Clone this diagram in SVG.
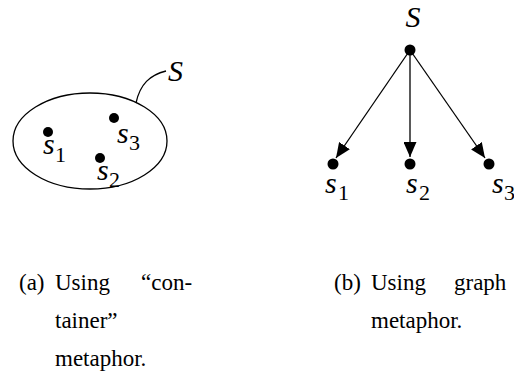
<svg xmlns="http://www.w3.org/2000/svg" width="514" height="374" viewBox="0 0 514 374">
<defs>
<style>
.m{font-family:"Liberation Serif",serif;font-style:italic;font-size:30px;fill:#000}
.sub{font-family:"Liberation Serif",serif;font-size:22px;fill:#000}
.cap{font-family:"Liberation Serif",serif;font-size:23px;fill:#000}
.ln{stroke:#000;stroke-width:1.3;fill:none}
.dot{fill:#000}
</style>
<marker id="ah" viewBox="0 0 15 13" refX="15" refY="6.5" markerWidth="15" markerHeight="13" markerUnits="userSpaceOnUse" orient="auto">
<path d="M0,0 L15,6.5 L0,13 Z" fill="#000"/>
</marker>
</defs>
<rect width="514" height="374" fill="#fff"/>
<g id="container">
<ellipse class="ln" cx="90" cy="141" rx="77" ry="48"/>
<path class="ln" d="M136,103 C140,84 150,75 166,71"/>
<text class="m" x="168" y="81">S</text>
</g>
<g id="a-s1"><circle class="dot" cx="48" cy="132" r="5"/><text class="m" x="43" y="154">s</text><text class="sub" x="55" y="162">1</text></g>
<g id="a-s3"><circle class="dot" cx="114" cy="118" r="5"/><text class="m" x="117" y="143">s</text><text class="sub" x="129" y="150">3</text></g>
<g id="a-s2"><circle class="dot" cx="100" cy="158" r="5"/><text class="m" x="97" y="180">s</text><text class="sub" x="109" y="187">2</text></g>
<g id="connectors">
<line class="ln" x1="410" y1="50" x2="336" y2="158" marker-end="url(#ah)"/>
<line class="ln" x1="410" y1="50" x2="410" y2="157" marker-end="url(#ah)"/>
<line class="ln" x1="410" y1="50" x2="485" y2="158" marker-end="url(#ah)"/>
</g>
<g id="b-S"><circle class="dot" cx="410" cy="50" r="5.5"/><text class="m" x="413" y="27" text-anchor="middle">S</text></g>
<g id="b-s1"><circle class="dot" cx="333" cy="164" r="5.5"/><text class="m" x="325" y="193">s</text><text class="sub" x="338" y="200">1</text></g>
<g id="b-s2"><circle class="dot" cx="410" cy="164" r="5.5"/><text class="m" x="406" y="193">s</text><text class="sub" x="419" y="200">2</text></g>
<g id="b-s3"><circle class="dot" cx="489" cy="164" r="5.5"/><text class="m" x="492" y="193">s</text><text class="sub" x="504" y="200">3</text></g>
<g id="caption-a">
<text class="cap" x="19" y="290">(a)</text>
<text class="cap" x="55" y="290">Using</text>
<text class="cap" x="141" y="290">“con-</text>
<text class="cap" x="55" y="328">tainer”</text>
<text class="cap" x="55" y="366">metaphor.</text>
</g>
<g id="caption-b">
<text class="cap" x="334" y="290">(b)</text>
<text class="cap" x="371" y="290">Using</text>
<text class="cap" x="454" y="290">graph</text>
<text class="cap" x="371" y="328">metaphor.</text>
</g>
</svg>
